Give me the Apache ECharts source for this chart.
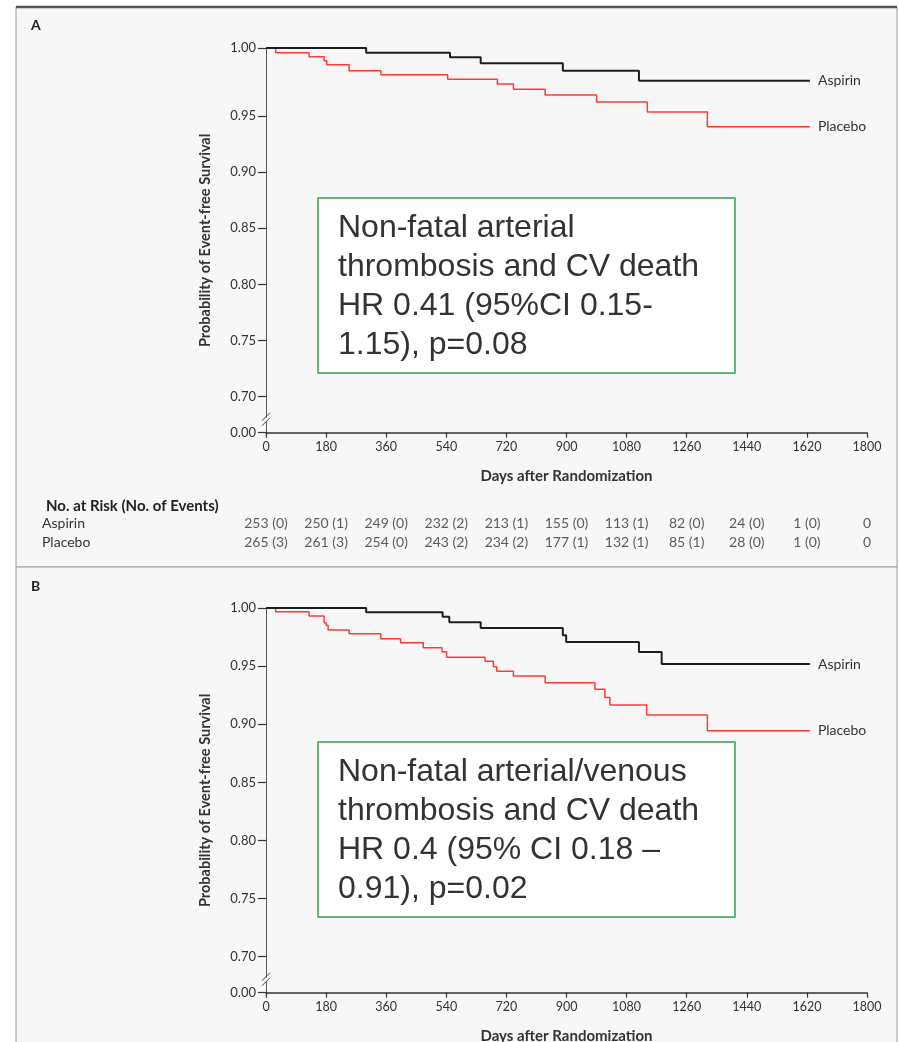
<!DOCTYPE html>
<html><head><meta charset="utf-8">
<script src="https://cdn.jsdelivr.net/npm/echarts@6/dist/echarts.min.js"></script>
<style>html,body{margin:0;padding:0;background:#fff}#c{width:899px;height:1042px}</style>
</head><body><div id="c"></div>
<script>
// ---------------- data ----------------
const xTicks = [0, 180, 360, 540, 720, 900, 1080, 1260, 1440, 1620, 1800];
const yTicks = [0, 0.70, 0.75, 0.80, 0.85, 0.90, 0.95, 1.00];

const aspirinA_days = [0, 300, 551, 643, 889, 1117, 1629];
const aspirinA_surv = [1.0, 0.9965, 0.9932, 0.9888, 0.9833, 0.9760, 0.9760];
const placeboA_days = [0, 29, 129, 174, 182, 249, 344, 544, 693, 741, 836, 990, 1142, 1322, 1629];
const placeboA_surv = [1.0, 0.9965, 0.9936, 0.9907, 0.9877, 0.9833, 0.9804, 0.9770, 0.9735, 0.9696, 0.9654, 0.9603, 0.9529, 0.9404, 0.9404];

const aspirinB_days = [0, 300, 529, 549, 643, 889, 899, 1117, 1185, 1629];
const aspirinB_surv = [1.0, 0.9963, 0.9925, 0.9877, 0.9828, 0.9765, 0.9707, 0.9621, 0.9518, 0.9518];
const placeboB_days = [0, 29, 129, 174, 180, 186, 249, 344, 403, 471, 527, 541, 656, 681, 691, 741, 836, 985, 1015, 1030, 1140, 1322, 1629];
const placeboB_surv = [1.0, 0.9968, 0.9931, 0.9873, 0.9851, 0.9811, 0.9779, 0.9736, 0.9701, 0.9658, 0.9624, 0.9576, 0.9541, 0.9495, 0.9455, 0.9415, 0.9357, 0.9300, 0.9231, 0.9165, 0.9079, 0.8944, 0.8944];

const riskRows = ['Aspirin', 'Placebo'];
const riskAspirin = ['253 (0)', '250 (1)', '249 (0)', '232 (2)', '213 (1)', '155 (0)', '113 (1)', '82 (0)', '24 (0)', '1 (0)', '0'];
const riskPlacebo = ['265 (3)', '261 (3)', '254 (0)', '243 (2)', '234 (2)', '177 (1)', '132 (1)', '85 (1)', '28 (0)', '1 (0)', '0'];

const boxTextA = 'Non-fatal arterial\nthrombosis and CV death\nHR 0.41 (95%CI 0.15-\n1.15), p=0.08';
const boxTextB = 'Non-fatal arterial/venous\nthrombosis and CV death\nHR 0.4 (95% CI 0.18 \u2013\n0.91), p=0.02';

// ---------------- scales (broken axis 0.00 // 0.70) ----------------
function interp(xs, ys, v) {
  if (v <= xs[0]) return ys[0];
  for (let i = 1; i < xs.length; i++) {
    if (v <= xs[i]) return ys[i-1] + (ys[i] - ys[i-1]) * (v - xs[i-1]) / (xs[i] - xs[i-1]);
  }
  return ys[ys.length - 1];
}
function makeScale(vals, units) {
  return { fwd: v => interp(vals, units, v), inv: u => interp(units, vals, u) };
}
const scaleA = makeScale([0, 0.70, 0.95, 1.00], [0.6679, 0.70, 0.95, 1.0106]);
const scaleB = makeScale([0, 0.70, 1.00], [0.669, 0.70, 1.00]);

const FONT = 'Lato, "Open Sans", sans-serif';
const TXT = '#333';
const BLACK = '#1e1e1e';
const RED = '#ff3a3a';

function xAxisFor(gi) {
  return {
    type: 'value', gridIndex: gi, min: 0, max: 1800, interval: 180,
    axisLine: { show: true, lineStyle: { color: '#333', width: 1.5 } },
    axisTick: { show: true, length: 5, lineStyle: { color: '#333', width: 1.2 } },
    axisLabel: { fontSize: 12.5, color: TXT, fontFamily: FONT, margin: 8, formatter: v => String(v) },
    splitLine: { show: false },
    name: 'Days after Randomization', nameLocation: 'middle', nameGap: 36,
    nameTextStyle: { fontSize: 15, fontWeight: 'bold', color: TXT, fontFamily: FONT }
  };
}
function yAxisFor(gi, sc) {
  const cv = yTicks.map(sc.fwd);
  return {
    type: 'value', gridIndex: gi, min: sc.fwd(0), max: sc.fwd(1),
    axisLine: { show: true, lineStyle: { color: '#555', width: 1 } },
    axisTick: { show: true, length: 8, customValues: cv, lineStyle: { color: '#333', width: 1.2 } },
    axisLabel: { customValues: cv, formatter: u => sc.inv(u).toFixed(2), fontSize: 13, color: TXT, fontFamily: FONT, margin: 10 },
    splitLine: { show: false },
    name: 'Probability of Event-free Survival', nameLocation: 'middle', nameRotate: 90, nameGap: 53,
    nameTextStyle: { fontSize: 14.5, fontWeight: 'bold', color: TXT, fontFamily: FONT }
  };
}
function kmSeries(name, days, surv, sc, gi, color, width) {
  return {
    type: 'line', name, xAxisIndex: gi, yAxisIndex: gi, step: 'end', symbol: 'none',
    data: days.map((d, i) => [d, sc.fwd(surv[i])]),
    lineStyle: { color, width },
    endLabel: { show: true, formatter: name, distance: 8, color: TXT, fontSize: 14, fontFamily: FONT },
    z: color === BLACK ? 4 : 3
  };
}
function riskSeries(row, labels) {
  return {
    type: 'scatter', xAxisIndex: 2, yAxisIndex: 2, symbolSize: 0,
    data: xTicks.map(d => [d, row]),
    label: { show: true, position: 'inside', formatter: p => labels[p.dataIndex], fontSize: 14, color: TXT, fontFamily: FONT }
  };
}

const chart = echarts.init(document.getElementById('c'), null, { renderer: 'canvas' });

function boxEls(id, y, text) {
  return [
    { id: id + 'r', type: 'rect', z: 50, shape: { x: 318, y: y, width: 417, height: 175 },
      style: { fill: '#ffffff', stroke: '#2fa44f', lineWidth: 1.5 } },
    { id: id + 't', type: 'text', z: 51, x: 338, y: y + 11,
      style: { text: text, fill: '#333', fontSize: 32, fontFamily: '"Liberation Sans", Arial, sans-serif', lineHeight: 39, textVerticalAlign: 'top' } }
  ];
}
const frameEls = [
  { id: 'fa', type: 'rect', z: -10, shape: { x: 16, y: 7, width: 881, height: 560 }, style: { fill: '#f7f7f7', stroke: '#9a9a9a', lineWidth: 1 } },
  { id: 'fb', type: 'rect', z: -10, shape: { x: 16, y: 567, width: 881, height: 490 }, style: { fill: '#f7f7f7', stroke: '#9a9a9a', lineWidth: 1 } },
  { id: 'ft', type: 'line', z: -9, shape: { x1: 16, y1: 7, x2: 897, y2: 7 }, style: { stroke: '#555', lineWidth: 2.5 } }
];

const option = {
  animation: false,
  backgroundColor: '#ffffff',
  title: [
    { text: 'A', left: 26, top: 13, textStyle: { fontSize: 14, fontWeight: 'bold', color: '#222', fontFamily: FONT } },
    { text: 'B', left: 26, top: 574, textStyle: { fontSize: 14, fontWeight: 'bold', color: '#222', fontFamily: FONT } },
    { text: 'No. at Risk (No. of Events)', left: 41, top: 494, textStyle: { fontSize: 15, fontWeight: 'bold', color: '#222', fontFamily: FONT } }
  ],
  grid: [
    { left: 266, width: 601, top: 48, height: 384.7, containLabel: false, outerBoundsMode: 'none' },
    { left: 266, width: 601, top: 608, height: 384.7, containLabel: false, outerBoundsMode: 'none' },
    { left: 266, width: 601, top: 513.5, height: 38, containLabel: false, outerBoundsMode: 'none' }
  ],
  xAxis: [ xAxisFor(0), xAxisFor(1),
    { type: 'value', gridIndex: 2, min: 0, max: 1800, show: false } ],
  yAxis: [ yAxisFor(0, scaleA), yAxisFor(1, scaleB),
    { type: 'category', gridIndex: 2, data: riskRows, inverse: true,
      axisLine: { show: false }, axisTick: { show: false },
      axisLabel: { show: true, align: 'left', margin: 224, fontSize: 14, color: TXT, fontFamily: FONT } } ],
  series: [
    kmSeries('Aspirin', aspirinA_days, aspirinA_surv, scaleA, 0, BLACK, 2),
    kmSeries('Placebo', placeboA_days, placeboA_surv, scaleA, 0, RED, 1.5),
    kmSeries('Aspirin', aspirinB_days, aspirinB_surv, scaleB, 1, BLACK, 2),
    kmSeries('Placebo', placeboB_days, placeboB_surv, scaleB, 1, RED, 1.5),
    riskSeries('Aspirin', riskAspirin),
    riskSeries('Placebo', riskPlacebo)
  ],
  graphic: { elements: frameEls.concat(boxEls('ba', 198, boxTextA), boxEls('bb', 742, boxTextB)) }
};
chart.setOption(option);

// axis break marks (//) between 0.00 and 0.70
function breakEls(id, yi, sc) {
  const uMid = sc.fwd(0) + (sc.fwd(0.70) - sc.fwd(0)) * 0.36;
  const y = chart.convertToPixel({ yAxisIndex: yi }, uMid);
  const x = chart.convertToPixel({ xAxisIndex: yi }, 0);
  return [
    { id: id + 'g', type: 'rect', z: 20, shape: { x: x - 2, y: y - 2, width: 4, height: 4 }, style: { fill: '#f7f7f7' } },
    { id: id + '1', type: 'line', z: 21, shape: { x1: x - 4, y1: y + 1, x2: x + 4, y2: y - 7 }, style: { stroke: '#444', lineWidth: 1 } },
    { id: id + '2', type: 'line', z: 21, shape: { x1: x - 4, y1: y + 6, x2: x + 4, y2: y - 2 }, style: { stroke: '#444', lineWidth: 1 } }
  ];
}
chart.setOption({ graphic: { elements: breakEls('ka', 0, scaleA).concat(breakEls('kb', 1, scaleB)) } });
</script></body></html>
